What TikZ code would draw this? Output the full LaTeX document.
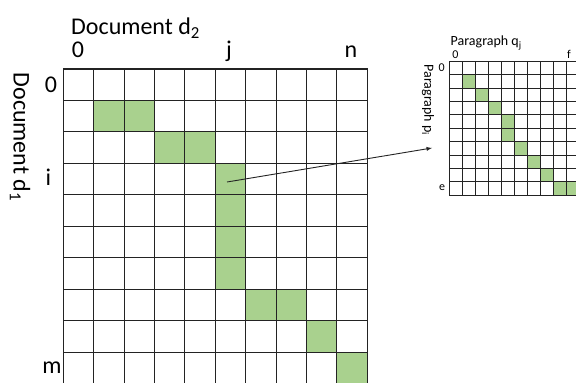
\documentclass[tikz,border=0pt]{standalone}
\usepackage{fontspec}
\setmainfont{Carlito}
\usepackage{tikz}
\usetikzlibrary{arrows}

\begin{document}
\begin{tikzpicture}[x=1pt,y=1pt]
    \definecolor{mygreen}{RGB}{169,209,142}
    \definecolor{mygrid}{RGB}{35,35,35}

    \tikzstyle{cell}=[fill=mygreen]  % matched cells
    \tikzstyle{biglabel}=[font=\fontsize{24pt}{28pt}\selectfont,inner sep=0pt]
    \tikzstyle{smalltitle}=[font=\fontsize{14pt}{16pt}\selectfont,inner sep=0pt]
    \tikzstyle{smalllabel}=[font=\fontsize{12pt}{14pt}\selectfont,inner sep=0pt]
    \useasboundingbox (0,0) rectangle (576,383);

    % document matrix
    \begin{scope}[shift={(63.3,-1)},x=30.4pt,y=31.5pt]
      \foreach \c/\r in {1/1,2/1,3/2,4/2,5/3,5/4,5/5,5/6,6/7,7/7,8/8,9/9}
        \fill[cell] (\c,9-\r) rectangle ++(1,1);
      \draw[mygrid,line width=1pt] (0,0) grid[step=1] (10,10) (0,0) rectangle (10,10);
    \end{scope}

    % paragraph matrix
    \begin{scope}[shift={(449.3,187.7)},x=13pt,y=13.4pt]
      \foreach \c/\r in {1/1,2/2,3/3,4/4,4/5,5/6,6/7,7/8,8/9,9/9}
        \fill[cell] (\c,9-\r) rectangle ++(1,1);
      \draw[mygrid,line width=0.8pt] (0,0) grid[step=1] (10,10) (0,0) rectangle (10,10);
    \end{scope}

    % labels
    \node[biglabel,anchor=base west](d2title) at (71,348) {Document d\textsubscript{2}};
    \node[biglabel,rotate=-90](d1title) at (20,246) {Document d\textsubscript{1}};
    \node[biglabel,anchor=base](col0) at (78,325) {0};
    \node[biglabel,anchor=base](colj) at (229,325) {j};
    \node[biglabel,anchor=base](coln) at (351,325) {n};
    \node[biglabel](row0) at (51,298) {0};
    \node[biglabel](rowi) at (48.5,206) {i};
    \node[biglabel](rowm) at (52,15) {m};

    \node[smalltitle,anchor=base west](qtitle) at (450.5,337) {Paragraph q\textsubscript{j}};
    \node[smalltitle,rotate=-90](ptitle) at (428,283) {Paragraph p\textsubscript{i}};
    \node[smalllabel,anchor=base](qcol0) at (455.5,324.5) {0};
    \node[smalllabel,anchor=base](qcolf) at (569,324.5) {f};
    \node[smalllabel](prow0) at (441.7,315.3) {0};
    \node[smalllabel](prowe) at (442,195) {e};

    % arrow from cell (i,j) to the paragraph matrix
    \coordinate (cellij) at (227,201);
    \coordinate (pmatrix) at (432,235);
    \draw[->,>=latex,mygrid,line width=0.9pt](cellij)--(pmatrix);
\end{tikzpicture}
\end{document}
